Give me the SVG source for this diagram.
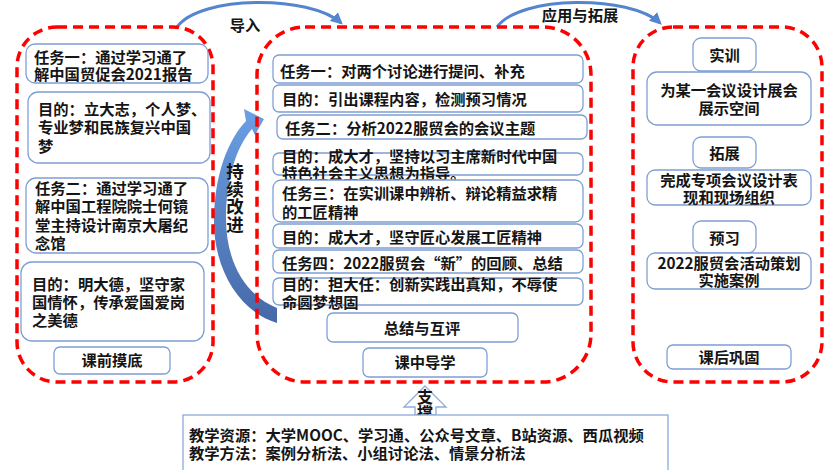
<svg xmlns="http://www.w3.org/2000/svg" width="831" height="470" viewBox="0 0 831 470">
<defs>
<style>
.zone{fill:none;stroke:#ff0000;stroke-width:3.5;stroke-dasharray:10 6}
.nd{fill:#ffffff;stroke:#7f9fd3;stroke-width:1.3}
.t{font-family:"Noto Sans CJK SC","Microsoft YaHei","Noto Sans",sans-serif;font-weight:bold;font-size:15.3px;fill:#151515}
.c{text-anchor:middle}
.v{writing-mode:vertical-rl;text-orientation:upright}
.arc{fill:none;stroke:#5585cf;stroke-width:3}
.sup{fill:#ffffff;stroke:#8eaadb;stroke-width:1.3}
</style>
<marker id="ah" viewBox="0 0 10 10" refX="8" refY="5" markerWidth="4" markerHeight="4" orient="auto" markerUnits="strokeWidth">
<path d="M0,0 L10,5 L0,10 z" fill="#5585cf"/>
</marker>
<linearGradient id="bg" x1="0" y1="0" x2="0" y2="1">
<stop offset="0" stop-color="#6b9fe4"/>
<stop offset="1" stop-color="#4669a8"/>
</linearGradient>
</defs>
<rect width="831" height="470" fill="#ffffff"/>

<g id="connectors">
<path class="arc" d="M177 27 C200 -5 310 -5 341 23" marker-end="url(#ah)"/>
<path class="arc" d="M497 27 C520 -5 630 -5 660 23" marker-end="url(#ah)"/>
<path id="improve-arrow" fill="url(#bg)" d="M277 323 C240 312 214 270 214 222 C214 175 228 140 246 121 L244 109 L264 119 L255 135 L252 129 C236 147 226 180 226 218 C226 262 245 295 277 308 Z"/>
<path class="sup" d="M425 386 L446 407 L436 407 L436 415 L415 415 L415 407 L404 407 Z"/>
</g>

<g id="zones">
<rect class="zone" x="17" y="27" width="196" height="355" rx="40"/>
<rect class="zone" x="257" y="27" width="334" height="355" rx="48"/>
<rect class="zone" x="633" y="27" width="189" height="355" rx="40"/>
</g>

<g id="labels">
<text class="t c" x="245" y="30.5">导入</text>
<text class="t c" x="580" y="21">应用与拓展</text>
<text class="t v" style="font-size:17.5px" x="235" y="163">持续改进</text>
<text class="t v" style="font-size:16px" x="425" y="389">支撑</text>
</g>

<g id="left-task1"><rect class="nd" x="26" y="44" width="182" height="39" rx="9"/>
<text class="t"><tspan x="34" y="62.5">任务一：通过学习通了</tspan><tspan x="34" y="79.5">解中国贸促会2021报告</tspan></text></g>
<g id="left-goal1"><rect class="nd" x="28" y="92" width="182" height="71" rx="10"/>
<text class="t"><tspan x="38" y="114.5">目的：立大志，个人梦、</tspan><tspan x="38" y="133">专业梦和民族复兴中国</tspan><tspan x="38" y="151.5">梦</tspan></text></g>
<g id="left-task2"><rect class="nd" x="26" y="178" width="182" height="75" rx="10"/>
<text class="t"><tspan x="35" y="194">任务二：通过学习通了</tspan><tspan x="35" y="212">解中国工程院院士何镜</tspan><tspan x="35" y="230.5">堂主持设计南京大屠纪</tspan><tspan x="35" y="249">念馆</tspan></text></g>
<g id="left-goal2"><rect class="nd" x="21" y="262" width="183" height="79" rx="11"/>
<text class="t"><tspan x="32" y="289.5">目的：明大德，坚守家</tspan><tspan x="32" y="307.5">国情怀，传承爱国爱岗</tspan><tspan x="32" y="325.5">之美德</tspan></text></g>
<g id="left-title"><rect class="nd" x="54" y="347" width="116" height="27" rx="6"/>
<text class="t c" x="112" y="365.5">课前摸底</text></g>

<g id="mid-task1"><rect class="nd" x="273" y="55" width="310" height="28" rx="6"/>
<text class="t" x="280" y="76.5">任务一：对两个讨论进行提问、补充</text></g>
<g id="mid-goal1"><rect class="nd" x="273" y="85" width="310" height="27" rx="6"/>
<text class="t" x="282" y="104.5">目的：引出课程内容，检测预习情况</text></g>
<g id="mid-task2"><rect class="nd" x="277" y="115" width="310" height="24" rx="6"/>
<text class="t" x="285" y="133.5">任务二：分析2022服贸会的会议主题</text></g>
<g id="mid-goal2"><rect class="nd" x="273" y="153" width="310" height="22" rx="6"/>
<text class="t"><tspan x="282" y="161.5">目的：成大才，坚持以习主席新时代中国</tspan><tspan x="282" y="178.5">特色社会主义思想为指导。</tspan></text></g>
<g id="mid-task3"><rect class="nd" x="273" y="180" width="310" height="42" rx="8"/>
<text class="t"><tspan x="282" y="198.5">任务三：在实训课中辨析、辩论精益求精</tspan><tspan x="282" y="217.5">的工匠精神</tspan></text></g>
<g id="mid-goal3"><rect class="nd" x="273" y="224" width="310" height="24" rx="6"/>
<text class="t" x="282" y="242.5">目的：成大才，坚守匠心发展工匠精神</text></g>
<g id="mid-task4"><rect class="nd" x="273" y="250" width="310" height="23" rx="6"/>
<text class="t" x="282" y="268.5">任务四：2022服贸会“新”的回顾、总结</text></g>
<g id="mid-goal4"><rect class="nd" x="273" y="278" width="310" height="27" rx="6"/>
<text class="t"><tspan x="282" y="289.5">目的：担大任：创新实践出真知，不辱使</tspan><tspan x="282" y="307.5">命圆梦想固</tspan></text></g>
<g id="mid-summary"><rect class="nd" x="327" y="313" width="191" height="29" rx="6"/>
<text class="t c" x="422" y="333.5">总结与互评</text></g>
<g id="mid-title"><rect class="nd" x="363" y="348" width="124" height="29" rx="6"/>
<text class="t c" x="425" y="367.5">课中导学</text></g>

<g id="right-train"><rect class="nd" x="693" y="38" width="63" height="33" rx="8"/>
<text class="t c" x="724.5" y="60.5">实训</text></g>
<g id="right-train-body"><rect class="nd" x="647" y="72" width="164" height="53" rx="10"/>
<text class="t c"><tspan x="729" y="95.5">为某一会议设计展会</tspan><tspan x="729" y="113.5">展示空间</tspan></text></g>
<g id="right-ext"><rect class="nd" x="693" y="137" width="63" height="31" rx="8"/>
<text class="t c" x="724.5" y="158.5">拓展</text></g>
<g id="right-ext-body"><rect class="nd" x="647" y="170" width="164" height="35" rx="8"/>
<text class="t c"><tspan x="729" y="186">完成专项会议设计表</tspan><tspan x="729" y="202.5">现和现场组织</tspan></text></g>
<g id="right-pre"><rect class="nd" x="693" y="221" width="63" height="32" rx="8"/>
<text class="t c" x="724.5" y="243.5">预习</text></g>
<g id="right-pre-body"><rect class="nd" x="647" y="253" width="164" height="36" rx="8"/>
<text class="t c"><tspan x="729" y="268.5">2022服贸会活动策划</tspan><tspan x="729" y="285.5">实施案例</tspan></text></g>
<g id="right-title"><rect class="nd" x="667" y="345" width="124" height="24" rx="6"/>
<text class="t c" x="729" y="362.5">课后巩固</text></g>

<g id="resources"><rect class="sup" x="183" y="415" width="485" height="70"/>
<text class="t"><tspan x="189" y="440.5">教学资源：大学MOOC、学习通、公众号文章、B站资源、西瓜视频</tspan><tspan x="189" y="458.5">教学方法：案例分析法、小组讨论法、情景分析法</tspan></text></g>
</svg>
